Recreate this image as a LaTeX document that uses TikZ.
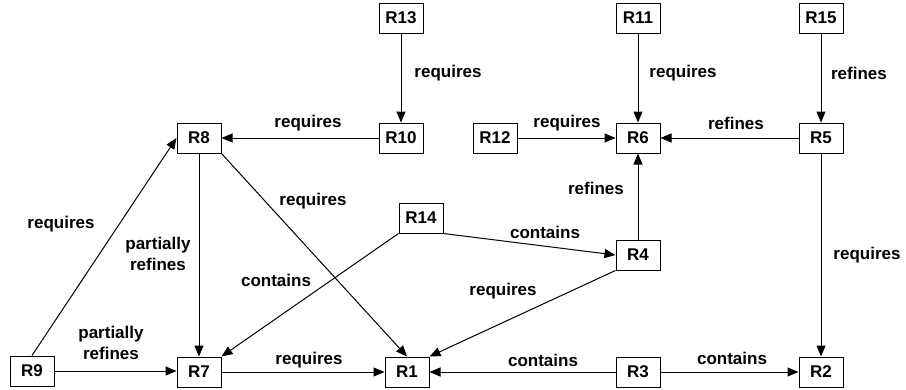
\documentclass[tikz,border=0pt]{standalone}
\usepackage{fontspec}
\setmainfont{Liberation Sans}
\usetikzlibrary{arrows.meta}
\begin{document}
\begin{tikzpicture}[x=1pt,y=-1pt,
  rbox/.style={draw,line width=1pt,minimum width=44pt,minimum height=30pt,inner sep=0pt,font=\fontsize{17}{19}\selectfont\bfseries},
  lbl/.style={inner sep=0pt,align=center,font=\fontsize{17}{21}\selectfont\bfseries},
  conn/.style={line width=1pt,-{Triangle[length=11pt,width=9pt]}}]
\useasboundingbox (0,0) rectangle (906,389);
\node[rbox] (R13) at (401,18) {R13};
\node[rbox] (R10) at (401,138) {R10};
\node[rbox] (R8) at (199,138) {R8};
\node[rbox] (R11) at (638,18) {R11};
\node[rbox] (R15) at (821,18) {R15};
\node[rbox] (R12) at (495,138) {R12};
\node[rbox] (R6) at (638,138) {R6};
\node[rbox] (R5) at (821,138) {R5};
\node[rbox] (R14) at (421,218) {R14};
\node[rbox] (R4) at (638,255) {R4};
\node[rbox] (R9) at (32,371) {R9};
\node[rbox] (R7) at (199,372) {R7};
\node[rbox] (R1) at (407,372) {R1};
\node[rbox] (R3) at (638,372) {R3};
\node[rbox] (R2) at (821,372) {R2};

\draw[conn] (R13) -- (R10);
\draw[conn] (R10) -- (R8);
\draw[conn] (R11) -- (R6);
\draw[conn] (R15) -- (R5);
\draw[conn] (R12) -- (R6);
\draw[conn] (R5) -- (R6);
\draw[conn] (R4) -- (R6);
\draw[conn] (R8.south east) -- (R1.north);
\draw[conn] (R8) -- (R7);
\draw[conn] (R9.north) -- (R8.west);
\draw[conn] (R9) -- (R9 -| R7.west);
\draw[conn] (R14.south west) -- (R7.north east);
\draw[conn] (R14.south east) -- (R4.west);
\draw[conn] (R4.south west) -- (R1.north east);
\draw[conn] (R5) -- (R2);
\draw[conn] (R7) -- (R1);
\draw[conn] (R3) -- (R1);
\draw[conn] (R3) -- (R2);

\node[lbl] (l1) at (448,73) {requires};
\node[lbl] (l2) at (308,123) {requires};
\node[lbl] (l3) at (683,73) {requires};
\node[lbl] (l4) at (859,73) {refines};
\node[lbl] (l5) at (567,123) {requires};
\node[lbl] (l6) at (736,123) {refines};
\node[lbl] (l7) at (596,188) {refines};
\node[lbl] (l8) at (313,201) {requires};
\node[lbl] (l9) at (61,224) {requires};
\node[lbl] (l10) at (158,254) {partially\\refines};
\node[lbl] (l11) at (276,280) {contains};
\node[lbl] (l12) at (545,232) {contains};
\node[lbl] (l13) at (503,291) {requires};
\node[lbl] (l14) at (867,255) {requires};
\node[lbl] (l15) at (111,343) {partially\\refines};
\node[lbl] (l16) at (309,360) {requires};
\node[lbl] (l17) at (543,360) {contains};
\node[lbl] (l18) at (732,358) {contains};
\end{tikzpicture}
\end{document}
